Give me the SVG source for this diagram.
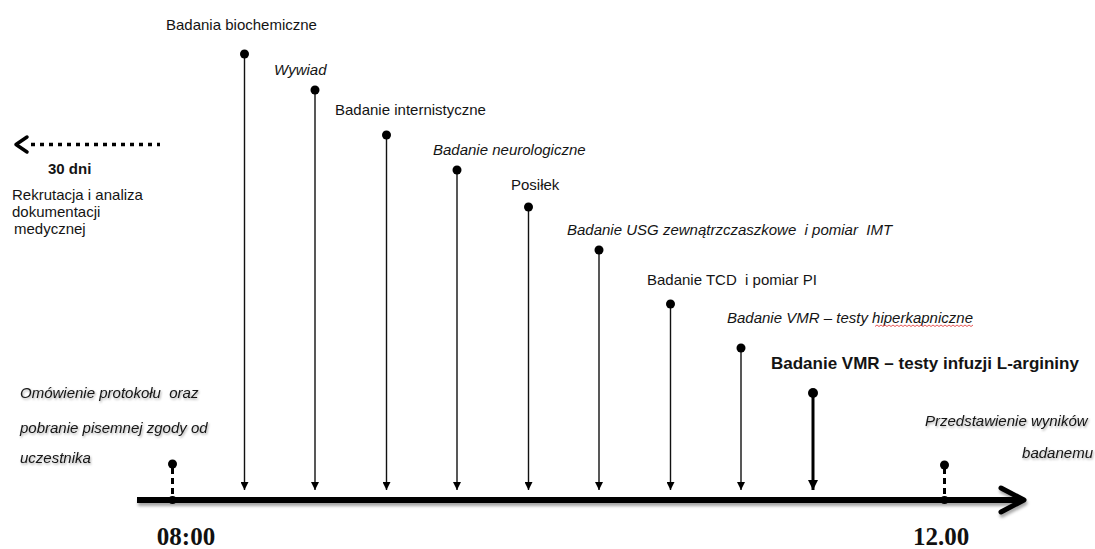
<svg xmlns="http://www.w3.org/2000/svg" width="1095" height="549" viewBox="0 0 1095 549">
<defs>
<style>
text{white-space:pre}
.t{font-family:"Liberation Sans",Arial,sans-serif;font-size:15px;fill:#141414}
.i{font-style:italic}
.b{font-weight:bold}
.big{font-size:17px}
.tm{font-family:"Liberation Serif","Times New Roman",serif;font-size:25px;font-weight:bold;fill:#111}
.stem{stroke:#111;stroke-width:1.4;fill:none}
.dot{fill:#000}
.dash{stroke:#000;stroke-width:3;stroke-dasharray:6,4;fill:none}
</style>
<marker id="ah" viewBox="0 0 10 10" refX="10" refY="5" markerWidth="8" markerHeight="8" markerUnits="userSpaceOnUse" orient="auto">
<path d="M0,0 L10,5 L0,10 Z" fill="#000"/>
</marker>
<marker id="ahb" viewBox="0 0 10 10" refX="10" refY="5" markerWidth="10" markerHeight="10" markerUnits="userSpaceOnUse" orient="auto">
<path d="M0,0 L10,5 L0,10 Z" fill="#000"/>
</marker>
<filter id="sh" x="-10%" y="-50%" width="120%" height="250%">
<feDropShadow dx="1" dy="3" stdDeviation="1.5" flood-color="#000" flood-opacity="0.35"/>
</filter>
<filter id="ts" x="-5%" y="-30%" width="110%" height="160%">
<feDropShadow dx="1" dy="1.5" stdDeviation="0.8" flood-color="#000" flood-opacity="0.35"/>
</filter>
</defs>

<g id="connectors">
<line class="stem" x1="244.5" y1="54" x2="244.5" y2="490" marker-end="url(#ah)"/>
<line class="stem" x1="315" y1="90" x2="315" y2="490" marker-end="url(#ah)"/>
<line class="stem" x1="386.5" y1="135" x2="386.5" y2="490" marker-end="url(#ah)"/>
<line class="stem" x1="457" y1="170" x2="457" y2="490" marker-end="url(#ah)"/>
<line class="stem" x1="528.5" y1="207" x2="528.5" y2="490" marker-end="url(#ah)"/>
<line class="stem" x1="599" y1="250" x2="599" y2="490" marker-end="url(#ah)"/>
<line class="stem" x1="670.5" y1="304" x2="670.5" y2="490" marker-end="url(#ah)"/>
<line class="stem" x1="741" y1="348" x2="741" y2="490" marker-end="url(#ah)"/>
<line x1="813" y1="393" x2="813" y2="490" stroke="#000" stroke-width="3" marker-end="url(#ahb)"/>
<line class="dash" x1="172.5" y1="468" x2="172.5" y2="498"/>
<line class="dash" x1="944.5" y1="468" x2="944.5" y2="498"/>
<line x1="31" y1="144.5" x2="160" y2="144.5" stroke="#000" stroke-width="3.5" stroke-dasharray="4,5"/>
<path d="M27,137 L16,144.5 L27,152" fill="none" stroke="#000" stroke-width="3.5" stroke-linecap="round" stroke-linejoin="round"/>
</g>

<g id="axis" filter="url(#sh)">
<line x1="137" y1="500" x2="1020" y2="500" stroke="#000" stroke-width="6"/>
<path d="M1001,488 L1024,500 L1001,512" fill="none" stroke="#000" stroke-width="5" stroke-linecap="round" stroke-linejoin="round"/>
</g>

<g id="node-recruit">
<text class="t b" x="48" y="174">30 dni</text>
<text class="t" x="12" y="200">Rekrutacja i analiza</text>
<text class="t" x="12" y="217">dokumentacji</text>
<text class="t" x="14" y="234">medycznej</text>
</g>

<g id="node-start" filter="url(#ts)">
<text class="t i" x="20" y="398">Omówienie protokołu  oraz</text>
<text class="t i" x="20" y="433">pobranie pisemnej zgody od</text>
<text class="t i" x="20" y="463">uczestnika</text>
</g>
<g id="node-start-marker">
<circle class="dot" cx="172.5" cy="464" r="4.5"/>
<circle class="dot" cx="172.5" cy="500" r="4"/>
<text class="tm" x="186" y="545" text-anchor="middle">08:00</text>
</g>

<g id="node-biochem">
<circle class="dot" cx="244.5" cy="54" r="4.5"/>
<text class="t" x="166" y="30">Badania biochemiczne</text>
</g>
<g id="node-wywiad">
<circle class="dot" cx="315" cy="90" r="4.5"/>
<text class="t i" x="274" y="75">Wywiad</text>
</g>
<g id="node-intern">
<circle class="dot" cx="386.5" cy="135" r="4.5"/>
<text class="t" x="335" y="115">Badanie internistyczne</text>
</g>
<g id="node-neuro">
<circle class="dot" cx="457" cy="170" r="4.5"/>
<text class="t i" x="433" y="155">Badanie neurologiczne</text>
</g>
<g id="node-posilek">
<circle class="dot" cx="528.5" cy="207" r="4.5"/>
<text class="t" x="511" y="190">Posiłek</text>
</g>
<g id="node-usg">
<circle class="dot" cx="599" cy="250" r="4.5"/>
<text class="t i" x="567" y="235">Badanie USG zewnątrzczaszkowe  i pomiar  IMT</text>
</g>
<g id="node-tcd">
<circle class="dot" cx="670.5" cy="304" r="4.5"/>
<text class="t" x="647" y="285">Badanie TCD  i pomiar PI</text>
</g>
<g id="node-vmr-hiper">
<circle class="dot" cx="741" cy="348" r="4.5"/>
<text class="t i" x="727" y="323">Badanie VMR – testy hiperkapniczne</text>
<path d="M875,326.5 l2,-1.5 l2,1.5 l2,-1.5 l2,1.5 l2,-1.5 l2,1.5 l2,-1.5 l2,1.5 l2,-1.5 l2,1.5 l2,-1.5 l2,1.5 l2,-1.5 l2,1.5 l2,-1.5 l2,1.5 l2,-1.5 l2,1.5 l2,-1.5 l2,1.5 l2,-1.5 l2,1.5 l2,-1.5 l2,1.5 l2,-1.5 l2,1.5 l2,-1.5 l2,1.5 l2,-1.5 l2,1.5 l2,-1.5 l2,1.5 l2,-1.5 l2,1.5 l2,-1.5 l2,1.5 l2,-1.5 l2,1.5 l2,-1.5 l2,1.5 l2,-1.5 l2,1.5 l2,-1.5 l2,1.5 l2,-1.5 l2,1.5 l2,-1.5 l2,1.5 l2,-1.5" fill="none" stroke="#e03030" stroke-width="0.8"/>
</g>
<g id="node-vmr-larg">
<circle class="dot" cx="813" cy="393" r="5"/>
<text class="t b big" x="771" y="369">Badanie VMR – testy infuzji L-argininy</text>
</g>

<g id="node-end" filter="url(#ts)">
<text class="t i" x="925" y="426">Przedstawienie wyników</text>
<text class="t i" x="1093" y="458" text-anchor="end">badanemu</text>
</g>
<g id="node-end-marker">
<circle class="dot" cx="944.5" cy="465" r="4.5"/>
<circle class="dot" cx="944.5" cy="500" r="4"/>
<text class="tm" x="941" y="545" text-anchor="middle">12.00</text>
</g>
</svg>
